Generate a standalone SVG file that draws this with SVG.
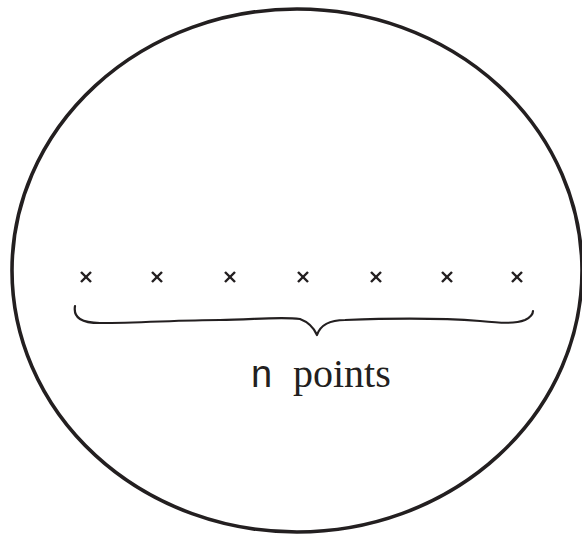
<svg xmlns="http://www.w3.org/2000/svg" width="582" height="536" viewBox="0 0 582 536">
<style>
.outline{fill:none;stroke:#231f20;stroke-width:3.6}
.pt{stroke:#231f20;stroke-width:2.4;stroke-linecap:butt}
.brace{fill:none;stroke:#231f20;stroke-width:2.2;stroke-linecap:round;stroke-linejoin:round}
.sans{font-family:"Liberation Sans",Arial,sans-serif;fill:#231f20}
.serif{font-family:"Liberation Serif","Times New Roman",serif;fill:#231f20}
</style>
<defs>
<g id="x"><line class="pt" x1="-5" y1="-5" x2="5" y2="5"/><line class="pt" x1="-5" y1="5" x2="5" y2="-5"/></g>
</defs>
<g id="region"><ellipse class="outline" cx="297" cy="270.5" rx="285" ry="261.5"/></g>
<g id="points">
<use href="#x" x="86" y="277"/>
<use href="#x" x="157" y="277"/>
<use href="#x" x="230" y="277"/>
<use href="#x" x="303" y="277"/>
<use href="#x" x="376" y="277"/>
<use href="#x" x="447" y="277"/>
<use href="#x" x="517" y="277"/>
</g>
<g id="connectors">
<path class="brace" d="M75,306 C73,318 82,323 100,323 C140,323 180,320 220,320 C250,320 280,316 300,319 C308,322 314,328 317,335 C320,326 328,320 345,320 C400,318 440,318 480,321 C500,323 515,324 525,320 C531,317 533,314 533,311"/>
</g>
<g id="label">
<text class="sans" x="251" y="387" font-size="38">n</text>
<text class="serif" x="293" y="387" font-size="40">points</text>
</g>
</svg>
